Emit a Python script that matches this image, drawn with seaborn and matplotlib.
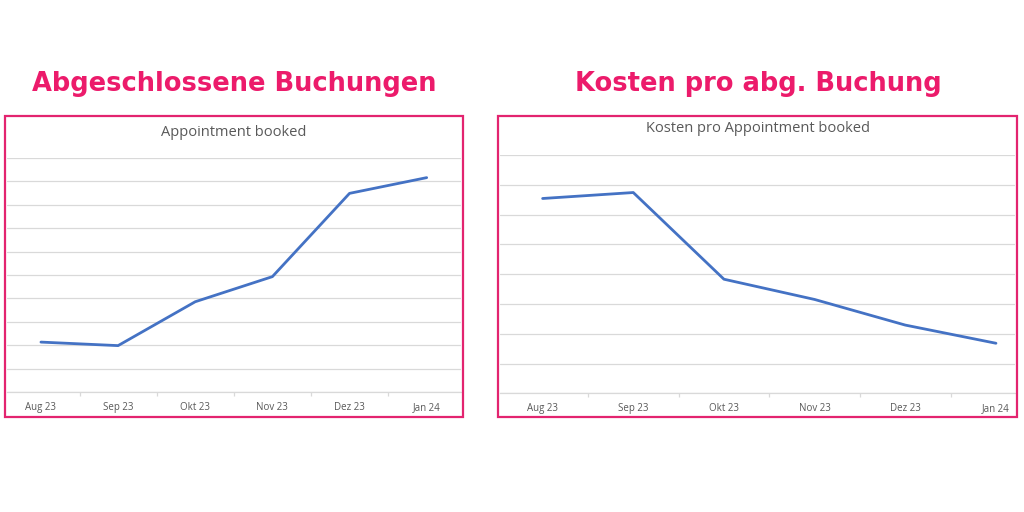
import matplotlib
matplotlib.use("Agg")
import matplotlib.pyplot as plt
import seaborn as sns
import pandas as pd
from matplotlib.patches import Rectangle

months = ["Aug 23", "Sep 23", "Okt 23", "Nov 23", "Dez 23", "Jan 24"]
booked = [2.14, 1.99, 3.86, 4.93, 8.48, 9.15]
cost_per_booked = [6.54, 6.74, 3.83, 3.15, 2.29, 1.68]

headline_left = "Abgeschlossene Buchungen"
headline_right = "Kosten pro abg. Buchung"
subtitle_left = "Appointment booked"
subtitle_right = "Kosten pro Appointment booked"

sns.set_theme(style="white")
plt.rcParams["font.family"] = ["Open Sans", "DejaVu Sans"]

W, H = 1024, 512
fig = plt.figure(figsize=(W / 100, H / 100), dpi=100)
fig.patch.set_facecolor("white")

PINK = "#e3246f"
TITLE_PINK = "#ec1b6b"
BLUE = "#4472c4"
GRID = "#d9d9d9"
TEXT = "#595959"


def fx(x):
    return x / W


def fy(y):
    return 1 - y / H


def panel(box, plot, xlim, ylim, values, subtitle, headline, head_x, sub_y):
    bx0, by0, bx1, by1 = box
    fig.patches.append(Rectangle((fx(bx0), fy(by1)), fx(bx1 - bx0), (by1 - by0) / H,
                                 transform=fig.transFigure, fill=False,
                                 edgecolor=PINK, linewidth=1.6, zorder=0))
    px0, py0, px1, py1 = plot
    ax = fig.add_axes([fx(px0), fy(py1), fx(px1 - px0), (py1 - py0) / H])
    ax.set_facecolor("none")
    df = pd.DataFrame({"month": range(len(months)), "value": values})
    sns.lineplot(data=df, x="month", y="value", ax=ax, color=BLUE,
                 linewidth=2.0, solid_capstyle="round", zorder=3)
    ax.set_yticks(range(0, ylim + 1))
    ax.set_yticklabels([])
    ax.tick_params(axis="y", length=0)
    ax.grid(axis="y", color=GRID, linewidth=0.9)
    ax.set_xticks(range(len(months)))
    ax.set_xticklabels(months, fontsize=7, color=TEXT)
    minor = [i + 0.5 for i in range(-1, len(months)) if xlim[0] < i + 0.5 < xlim[1]]
    ax.set_xticks(minor, minor=True)
    ax.tick_params(axis="x", which="major", length=0, pad=7)
    ax.tick_params(axis="x", which="minor", length=3, color=GRID, width=0.9, bottom=True)
    ax.set_xlim(*xlim)
    ax.set_ylim(0, ylim)
    for s in ["top", "left", "right"]:
        ax.spines[s].set_visible(False)
    ax.spines["bottom"].set_color(GRID)
    ax.spines["bottom"].set_linewidth(0.9)
    ax.set_xlabel("")
    ax.set_ylabel("")
    fig.text(fx((bx0 + bx1) / 2), fy(sub_y), subtitle, ha="center", va="center",
             fontsize=10.5, color=TEXT)
    fig.text(fx(head_x), fy(84), headline, ha="center", va="center",
             fontsize=18.5, fontweight="heavy", color=TITLE_PINK,
             family=["DejaVu Sans"])
    return ax


panel((5, 116, 463, 417), (7, 157.7, 461, 392.3), (-0.44, 5.445), 10,
      booked, subtitle_left, headline_left, 234, 132)
panel((498, 116, 1017, 417), (500, 155, 1015, 393.3), (-0.47, 5.21), 8,
      cost_per_booked, subtitle_right, headline_right, 758, 129)

fig.savefig("out.png", dpi=100, facecolor="white")
